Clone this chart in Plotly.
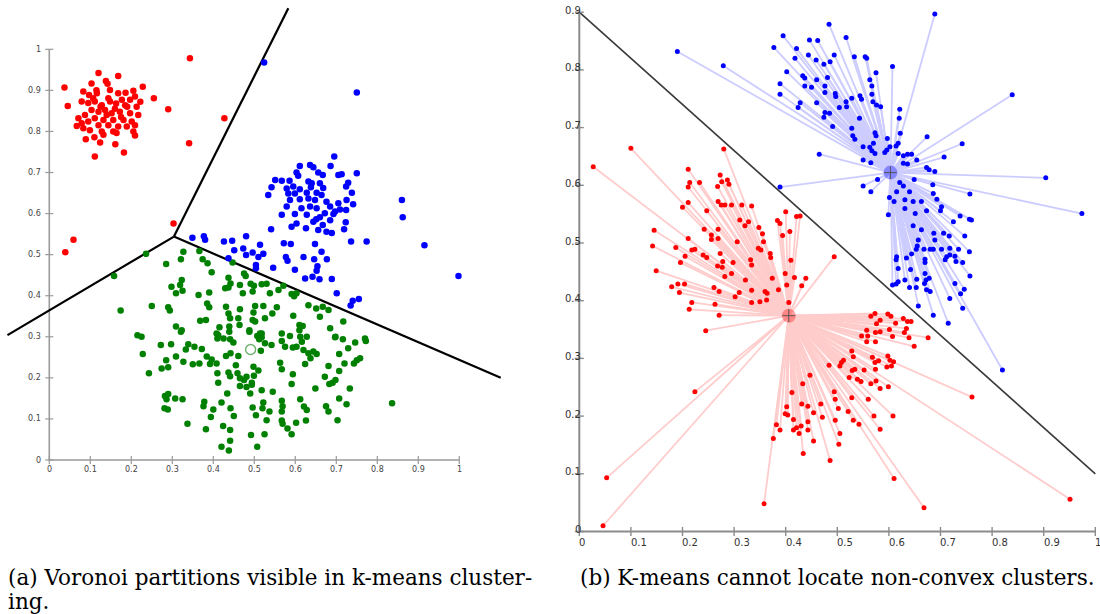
import plotly.graph_objects as go

# ---------------- panel (a): Voronoi partitions ----------------
a_red = [(0.343,0.978),(0.427,0.832),(0.341,0.771),(0.290,0.854),(0.255,0.881),(0.228,0.909),
         (0.037,0.907),(0.045,0.862),(0.303,0.576),(0.059,0.536),(0.039,0.506),(0.111,0.739),
         (0.182,0.749),(0.161,0.769),(0.120,0.942),(0.168,0.935),
         (0.103,0.917),(0.138,0.923),(0.142,0.916),(0.083,0.897),(0.097,0.889),(0.116,0.893),
         (0.148,0.901),(0.168,0.893),(0.186,0.894),(0.205,0.899),(0.209,0.885),(0.079,0.873),
         (0.095,0.869),(0.111,0.873),(0.128,0.864),(0.148,0.873),(0.163,0.868),(0.185,0.864),
         (0.213,0.860),(0.222,0.872),(0.103,0.852),(0.120,0.848),(0.136,0.852),(0.152,0.844),
         (0.172,0.848),(0.197,0.844),(0.217,0.840),(0.087,0.840),(0.071,0.832),(0.111,0.832),
         (0.132,0.828),(0.156,0.828),(0.181,0.828),(0.201,0.824),(0.095,0.824),(0.079,0.820),
         (0.067,0.813),(0.120,0.815),(0.144,0.815),(0.168,0.812),(0.189,0.812),(0.209,0.815),
         (0.083,0.808),(0.099,0.803),(0.128,0.800),(0.156,0.800),(0.205,0.800),(0.209,0.790),
         (0.132,0.792),(0.164,0.796),(0.089,0.781),(0.110,0.786),(0.124,0.773),(0.144,0.881),
         (0.177,0.877),(0.197,0.877),(0.107,0.881),(0.125,0.860),(0.160,0.855),(0.140,0.840),
         (0.175,0.835),(0.115,0.900),(0.190,0.860)]

a_blue = [(0.524,0.968),(0.750,0.895),
          (0.695,0.739),(0.611,0.716),(0.636,0.718),(0.644,0.713),(0.686,0.716),(0.603,0.700),
          (0.607,0.692),(0.656,0.700),(0.667,0.694),(0.705,0.694),(0.713,0.696),(0.750,0.698),
          (0.551,0.682),(0.567,0.680),(0.586,0.680),(0.632,0.678),(0.640,0.674),(0.660,0.674),
          (0.729,0.675),(0.724,0.666),(0.542,0.664),(0.579,0.661),(0.595,0.666),(0.611,0.659),
          (0.638,0.664),(0.668,0.662),(0.534,0.645),(0.583,0.649),(0.599,0.649),(0.628,0.651),
          (0.652,0.651),(0.664,0.645),(0.738,0.651),(0.587,0.633),(0.611,0.635),(0.632,0.637),
          (0.648,0.633),(0.676,0.629),(0.705,0.625),(0.725,0.633),(0.741,0.623),(0.579,0.617),
          (0.615,0.613),(0.636,0.617),(0.652,0.613),(0.685,0.617),(0.709,0.610),(0.697,0.605),
          (0.724,0.609),(0.567,0.597),(0.599,0.599),(0.628,0.597),(0.672,0.601),(0.693,0.599),
          (0.651,0.586),(0.660,0.591),(0.644,0.580),(0.685,0.584),(0.603,0.576),(0.591,0.568),
          (0.626,0.564),(0.656,0.560),(0.667,0.572),(0.676,0.556),(0.689,0.553),(0.719,0.562),
          (0.723,0.579),(0.541,0.562),(0.860,0.633),(0.862,0.591),(0.736,0.532),(0.774,0.532),
          (0.915,0.523),(0.998,0.448),
          (0.349,0.541),(0.377,0.545),(0.380,0.536),(0.426,0.532),(0.446,0.534),(0.480,0.545),
          (0.451,0.511),(0.473,0.515),(0.480,0.499),(0.496,0.505),(0.514,0.524),(0.510,0.494),
          (0.522,0.502),(0.437,0.491),(0.504,0.475),(0.504,0.467),(0.546,0.468),(0.572,0.528),
          (0.589,0.526),(0.577,0.494),(0.581,0.485),(0.599,0.463),(0.620,0.494),(0.646,0.489),
          (0.677,0.489),(0.648,0.526),(0.664,0.507),(0.654,0.472),(0.652,0.461),(0.624,0.442),
          (0.642,0.446),(0.659,0.440),(0.689,0.441),(0.701,0.406),(0.740,0.388),(0.755,0.392),
          (0.735,0.376)]

a_green = [(0.158,0.448),(0.236,0.502),(0.327,0.507),(0.366,0.509),(0.321,0.489),(0.285,0.477),
           (0.374,0.489),(0.386,0.479),(0.447,0.481),(0.396,0.457),(0.475,0.454),(0.479,0.448),
           (0.323,0.438),(0.319,0.426),(0.437,0.444),(0.442,0.430),(0.298,0.422),(0.325,0.412),
           (0.309,0.406),(0.429,0.418),(0.437,0.420),(0.465,0.426),(0.491,0.429),(0.499,0.424),
           (0.518,0.428),(0.530,0.429),(0.496,0.410),(0.472,0.406),(0.390,0.408),(0.364,0.402),
           (0.538,0.406),(0.559,0.414),(0.571,0.424),(0.591,0.404),(0.603,0.406),(0.597,0.399),
           (0.250,0.375),(0.174,0.364),(0.290,0.372),(0.294,0.364),(0.385,0.381),(0.390,0.372),
           (0.431,0.373),(0.465,0.367),(0.502,0.375),(0.522,0.375),(0.555,0.372),(0.544,0.357),
           (0.498,0.359),(0.437,0.357),(0.441,0.345),(0.461,0.345),(0.496,0.341),(0.502,0.337),
           (0.526,0.345),(0.595,0.351),(0.632,0.377),(0.651,0.369),(0.667,0.373),(0.681,0.365),
           (0.660,0.349),(0.717,0.337),(0.368,0.339),(0.382,0.341),(0.309,0.325),(0.323,0.316),
           (0.415,0.323),(0.439,0.325),(0.464,0.329),(0.488,0.316),(0.514,0.308),(0.518,0.299),
           (0.567,0.308),(0.610,0.329),(0.618,0.326),(0.610,0.316),(0.685,0.321),(0.215,0.304),
           (0.225,0.300),(0.412,0.304),(0.425,0.296),(0.628,0.300),(0.697,0.299),(0.770,0.296),
           (0.321,0.312),(0.408,0.308),(0.410,0.296),(0.439,0.312),(0.441,0.294),(0.449,0.286),
           (0.488,0.312),(0.507,0.302),(0.518,0.308),(0.512,0.294),(0.526,0.284),(0.542,0.280),
           (0.567,0.290),(0.587,0.302),(0.612,0.300),(0.616,0.288),(0.603,0.276),(0.575,0.276),
           (0.594,0.274),(0.698,0.300),(0.716,0.294),(0.772,0.290),(0.746,0.286),(0.729,0.272),
           (0.272,0.280),(0.297,0.282),(0.339,0.282),(0.333,0.269),(0.354,0.276),(0.372,0.270),
           (0.228,0.258),(0.309,0.252),(0.285,0.243),(0.327,0.239),(0.350,0.233),(0.366,0.235),
           (0.384,0.252),(0.396,0.245),(0.392,0.234),(0.408,0.235),(0.431,0.253),(0.442,0.260),
           (0.461,0.253),(0.455,0.231),(0.498,0.227),(0.510,0.218),(0.516,0.266),(0.620,0.268),
           (0.632,0.260),(0.644,0.264),(0.652,0.258),(0.637,0.248),(0.624,0.234),(0.707,0.258),
           (0.720,0.235),(0.681,0.229),(0.743,0.235),(0.750,0.243),(0.758,0.248),(0.563,0.237),
           (0.567,0.221),(0.274,0.223),(0.290,0.226),(0.243,0.211),(0.410,0.211),(0.412,0.188),
           (0.437,0.213),(0.441,0.204),(0.459,0.211),(0.465,0.199),(0.475,0.195),(0.481,0.203),
           (0.494,0.188),(0.499,0.205),(0.465,0.180),(0.481,0.178),(0.494,0.183),(0.594,0.209),
           (0.591,0.185),(0.707,0.217),(0.672,0.203),(0.698,0.195),(0.683,0.185),(0.691,0.188),
           (0.649,0.174),(0.733,0.174),(0.434,0.162),(0.490,0.162),(0.518,0.170),(0.545,0.166),
           (0.282,0.156),(0.290,0.161),(0.286,0.148),(0.307,0.150),(0.325,0.148),(0.281,0.126),
           (0.289,0.123),(0.378,0.142),(0.376,0.131),(0.400,0.123),(0.420,0.140),(0.442,0.126),
           (0.450,0.107),(0.394,0.105),(0.496,0.128),(0.504,0.109),(0.522,0.140),(0.520,0.126),
           (0.537,0.118),(0.530,0.097),(0.567,0.144),(0.569,0.131),(0.567,0.118),(0.567,0.096),
           (0.569,0.088),(0.581,0.077),(0.591,0.063),(0.602,0.091),(0.612,0.148),(0.621,0.130),
           (0.628,0.122),(0.626,0.096),(0.675,0.131),(0.681,0.118),(0.703,0.097),(0.707,0.150),
           (0.725,0.136),(0.836,0.138),(0.337,0.088),(0.382,0.075),(0.424,0.083),(0.441,0.073),
           (0.441,0.047),(0.492,0.061),(0.525,0.063),(0.420,0.032),(0.438,0.023),(0.507,0.032)]

a_centroid = (0.491, 0.269)

# Voronoi edges: junction and the three far ends
a_junction = (0.304, 0.544)
a_edge_ends = [(0.583, 1.100), (-0.102, 0.304), (1.101, 0.200)]

# ---------------- panel (b): non-convex clusters ----------------
b_red_centroid = (0.406, 0.374)
b_blue_centroid = (0.603, 0.622)
b_boundary = [(0.0, 0.9), (1.0, 0.1)]

b_red = [(0.100,0.664),(0.027,0.632),(0.280,0.663),(0.211,0.628),(0.273,0.618),(0.276,0.606),
         (0.287,0.609),(0.290,0.602),(0.268,0.598),(0.214,0.605),(0.211,0.597),(0.233,0.605),
         (0.211,0.570),(0.200,0.562),(0.269,0.572),(0.275,0.566),(0.282,0.566),(0.295,0.566),
         (0.315,0.566),(0.334,0.564),(0.247,0.556),(0.311,0.540),(0.328,0.537),(0.321,0.530),
         (0.400,0.554),(0.384,0.539),(0.389,0.534),(0.421,0.546),(0.428,0.547),(0.408,0.520),
         (0.394,0.513),(0.348,0.527),(0.355,0.516),(0.357,0.502),(0.347,0.491),(0.352,0.488),
         (0.370,0.482),(0.371,0.475),(0.410,0.470),(0.494,0.476),(0.145,0.522),(0.142,0.495),
         (0.187,0.492),(0.211,0.508),(0.218,0.488),(0.205,0.477),(0.224,0.489),(0.240,0.479),
         (0.247,0.475),(0.196,0.466),(0.242,0.524),(0.256,0.514),(0.256,0.506),(0.269,0.524),
         (0.269,0.508),(0.273,0.482),(0.278,0.468),(0.268,0.460),(0.277,0.458),(0.306,0.502),
         (0.298,0.466),(0.295,0.447),(0.282,0.442),(0.332,0.471),(0.334,0.462),(0.322,0.436),
         (0.374,0.439),(0.399,0.447),(0.417,0.440),(0.402,0.427),(0.439,0.439),(0.431,0.426),
         (0.149,0.452),(0.179,0.424),(0.191,0.429),(0.204,0.429),(0.194,0.414),(0.261,0.423),
         (0.271,0.416),(0.302,0.407),(0.310,0.414),(0.334,0.418),(0.334,0.397),(0.350,0.398),
         (0.363,0.401),(0.360,0.416),(0.364,0.413),(0.386,0.419),(0.406,0.397),(0.218,0.397),
         (0.263,0.394),(0.213,0.385),(0.271,0.375),(0.245,0.348),(0.224,0.242),(0.053,0.093),
         (0.046,0.010),(0.358,0.048),(0.486,0.123),(0.434,0.135),(0.610,0.092),(0.668,0.041),
         (0.761,0.233),(0.951,0.056),
         (0.565,0.373),(0.573,0.378),(0.583,0.366),(0.576,0.360),(0.598,0.377),(0.604,0.373),
         (0.613,0.361),(0.628,0.369),(0.636,0.364),(0.643,0.364),(0.634,0.352),(0.601,0.350),
         (0.583,0.346),(0.574,0.345),(0.557,0.349),(0.547,0.339),(0.559,0.339),(0.557,0.329),
         (0.574,0.329),(0.607,0.338),(0.630,0.345),(0.639,0.336),(0.676,0.336),(0.649,0.321),
         (0.528,0.313),(0.531,0.303),(0.568,0.302),(0.573,0.293),(0.580,0.296),(0.598,0.304),
         (0.602,0.297),(0.609,0.294),(0.605,0.287),(0.596,0.285),(0.574,0.281),(0.552,0.280),
         (0.534,0.281),(0.529,0.279),(0.512,0.297),(0.508,0.293),(0.505,0.287),(0.484,0.288),
         (0.523,0.267),(0.539,0.264),(0.546,0.260),(0.565,0.256),(0.575,0.261),(0.599,0.251),
         (0.583,0.248),(0.447,0.271),(0.433,0.256),(0.412,0.241),(0.494,0.242),(0.496,0.229),
         (0.528,0.232),(0.560,0.229),(0.502,0.213),(0.521,0.208),(0.531,0.193),(0.542,0.186),
         (0.571,0.200),(0.608,0.200),(0.583,0.177),(0.402,0.216),(0.399,0.204),(0.404,0.202),
         (0.415,0.194),(0.431,0.221),(0.443,0.217),(0.454,0.206),(0.468,0.221),(0.471,0.198),
         (0.496,0.193),(0.443,0.190),(0.430,0.183),(0.421,0.180),(0.415,0.176),(0.389,0.176),
         (0.382,0.185),(0.376,0.161),(0.426,0.170),(0.443,0.176),(0.454,0.157),(0.505,0.170),
         (0.503,0.151)]

b_blue = [(0.689,0.897),(0.190,0.832),(0.279,0.807),(0.484,0.879),(0.395,0.859),(0.377,0.839),
          (0.421,0.837),(0.446,0.852),(0.462,0.851),(0.517,0.856),(0.418,0.820),(0.444,0.826),
          (0.459,0.817),(0.474,0.810),(0.486,0.814),(0.494,0.826),(0.533,0.823),(0.554,0.823),
          (0.557,0.820),(0.607,0.806),(0.575,0.795),(0.402,0.797),(0.433,0.790),(0.437,0.786),
          (0.460,0.783),(0.481,0.787),(0.389,0.776),(0.389,0.758),(0.437,0.772),(0.450,0.770),
          (0.476,0.772),(0.563,0.783),(0.567,0.772),(0.476,0.761),(0.496,0.759),(0.497,0.754),
          (0.528,0.751),(0.544,0.755),(0.547,0.749),(0.567,0.758),(0.569,0.745),(0.576,0.739),
          (0.584,0.736),(0.839,0.757),(0.428,0.743),(0.424,0.735),(0.460,0.743),(0.504,0.735),
          (0.517,0.745),(0.518,0.736),(0.476,0.726),(0.474,0.718),(0.485,0.725),(0.543,0.716),
          (0.621,0.732),(0.620,0.716),(0.491,0.702),(0.528,0.699),(0.530,0.686),(0.534,0.680),
          (0.573,0.691),(0.575,0.686),(0.550,0.667),(0.563,0.666),(0.570,0.673),(0.567,0.660),
          (0.573,0.655),(0.597,0.681),(0.602,0.667),(0.618,0.673),(0.614,0.668),(0.622,0.690),
          (0.592,0.657),(0.596,0.661),(0.618,0.655),(0.628,0.651),(0.636,0.654),(0.644,0.654),
          (0.628,0.638),(0.636,0.637),(0.654,0.644),(0.674,0.684),(0.742,0.672),(0.707,0.649),
          (0.673,0.631),(0.678,0.627),(0.689,0.624),(0.465,0.654),(0.550,0.644),(0.565,0.639),
          (0.904,0.613),(0.974,0.551),(0.389,0.597),(0.578,0.610),(0.550,0.599),(0.565,0.589),
          (0.621,0.605),(0.628,0.599),(0.649,0.610),(0.615,0.589),(0.640,0.589),(0.601,0.579),
          (0.610,0.572),(0.631,0.575),(0.647,0.572),(0.663,0.572),(0.685,0.601),(0.686,0.586),
          (0.693,0.576),(0.757,0.585),(0.599,0.549),(0.631,0.560),(0.651,0.551),(0.673,0.556),
          (0.702,0.563),(0.700,0.556),(0.725,0.537),(0.738,0.547),(0.756,0.541),(0.760,0.540),
          (0.647,0.530),(0.663,0.523),(0.687,0.517),(0.706,0.517),(0.717,0.512),(0.747,0.512),
          (0.689,0.505),(0.657,0.505),(0.655,0.495),(0.653,0.489),(0.668,0.489),(0.680,0.489),
          (0.686,0.489),(0.702,0.489),(0.718,0.491),(0.735,0.489),(0.756,0.485),(0.644,0.481),
          (0.634,0.474),(0.615,0.476),(0.614,0.471),(0.670,0.472),(0.670,0.466),(0.712,0.476),
          (0.718,0.479),(0.728,0.477),(0.709,0.471),(0.730,0.468),(0.743,0.466),(0.618,0.456),
          (0.642,0.454),(0.670,0.447),(0.757,0.443),(0.631,0.436),(0.654,0.437),(0.672,0.436),
          (0.669,0.430),(0.678,0.439),(0.618,0.433),(0.614,0.429),(0.607,0.427),(0.640,0.423),
          (0.653,0.423),(0.673,0.419),(0.680,0.416),(0.728,0.430),(0.746,0.420),(0.739,0.412),
          (0.657,0.391),(0.686,0.375),(0.718,0.404),(0.743,0.387),(0.715,0.361),(0.820,0.280)]

# ---------------- tick values / labels ----------------
a_ticks = [0, 0.1, 0.2, 0.3, 0.4, 0.5, 0.6, 0.7, 0.8, 0.9, 1.0]
a_tick_labels = ['0', '0.1', '0.2', '0.3', '0.4', '0.5', '0.6', '0.7', '0.8', '0.9', '1']
b_xticks = [0, 0.1, 0.2, 0.3, 0.4, 0.5, 0.6, 0.7, 0.8, 0.9, 1.0]
b_xtick_labels = ['0', '0.1', '0.2', '0.3', '0.4', '0.5', '0.6', '0.7', '0.8', '0.9', '1']
b_yticks = [0, 0.1, 0.2, 0.3, 0.4, 0.5, 0.6, 0.7, 0.8, 0.9]
b_ytick_labels = ['0', '0.1', '0.2', '0.3', '0.4', '0.5', '0.6', '0.7', '0.8', '0.9']

caption_a1 = "(a) Voronoi partitions visible in k-means cluster-"
caption_a2 = "ing."
caption_b = "(b) K-means cannot locate non-convex clusters."

W, H = 1100, 614


def xs(pts):
    return [p[0] for p in pts]


def ys(pts):
    return [p[1] for p in pts]


def spokes(pts, c):
    lx, ly = [], []
    for p in pts:
        lx += [c[0], p[0], None]
        ly += [c[1], p[1], None]
    return lx, ly


fig = go.Figure()

# ---- panel (a) axes (drawn as data lines) ----
AXC = '#9a9a9a'
ta_x = 4 / 410.0
ta_y = 4 / 410.7
fig.add_trace(go.Scatter(x=[0, 0, 1], y=[1, 0, 0], mode='lines',
                         line=dict(color=AXC, width=1.6), xaxis='x', yaxis='y', hoverinfo='skip'))
tx, ty = [], []
for t in a_ticks:
    tx += [t, t, None]; ty += [-ta_y, ta_y, None]
    tx += [-ta_x, ta_x, None]; ty += [t, t, None]
fig.add_trace(go.Scatter(x=tx, y=ty, mode='lines', line=dict(color=AXC, width=1.2),
                         xaxis='x', yaxis='y', hoverinfo='skip'))

# Voronoi edges
ex, ey = [], []
for e in a_edge_ends:
    ex += [a_junction[0], e[0], None]
    ey += [a_junction[1], e[1], None]
fig.add_trace(go.Scatter(x=ex, y=ey, mode='lines', line=dict(color='black', width=2.2),
                         xaxis='x', yaxis='y', hoverinfo='skip'))

for pts, col in [(a_green, '#008000'), (a_blue, '#0000ff'), (a_red, '#ff0000')]:
    fig.add_trace(go.Scatter(x=xs(pts), y=ys(pts), mode='markers',
                             marker=dict(color=col, size=6.5, line=dict(width=0)),
                             xaxis='x', yaxis='y', hoverinfo='skip'))
fig.add_trace(go.Scatter(x=[a_centroid[0]], y=[a_centroid[1]], mode='markers',
                         marker=dict(symbol='circle-open', color='rgba(60,150,60,0.75)', size=10,
                                     line=dict(width=1.4)),
                         xaxis='x', yaxis='y', hoverinfo='skip'))

# ---- panel (b) ----
AXB = '#8c8c8c'
tb_x = 4.5 / 516.0
tb_y = 4.5 / 577.0
for pts, c, lc in [(b_red, b_red_centroid, '#ffcccc'), (b_blue, b_blue_centroid, '#ccccff')]:
    lx, ly = spokes(pts, c)
    fig.add_trace(go.Scatter(x=lx, y=ly, mode='lines', line=dict(color=lc, width=1.8),
                             xaxis='x2', yaxis='y2', hoverinfo='skip'))

fig.add_trace(go.Scatter(x=xs(b_boundary), y=ys(b_boundary), mode='lines',
                         line=dict(color='#3a3a3a', width=1.6), xaxis='x2', yaxis='y2', hoverinfo='skip'))

fig.add_trace(go.Scatter(x=[0, 0, 1], y=[b_yticks[-1], 0, 0], mode='lines',
                         line=dict(color=AXB, width=2), xaxis='x2', yaxis='y2', hoverinfo='skip'))
tx, ty = [], []
for t in b_xticks:
    tx += [t, t, None]; ty += [-tb_y, tb_y, None]
for t in b_yticks:
    tx += [-tb_x, tb_x, None]; ty += [t, t, None]
fig.add_trace(go.Scatter(x=tx, y=ty, mode='lines', line=dict(color=AXB, width=1.4),
                         xaxis='x2', yaxis='y2', hoverinfo='skip'))

for pts, col in [(b_red, '#ff0000'), (b_blue, '#0000ff')]:
    fig.add_trace(go.Scatter(x=xs(pts), y=ys(pts), mode='markers',
                             marker=dict(color=col, size=5, line=dict(width=0)),
                             xaxis='x2', yaxis='y2', hoverinfo='skip'))

for c, fc in [(b_red_centroid, 'rgba(255,0,0,0.35)'), (b_blue_centroid, 'rgba(0,0,255,0.35)')]:
    fig.add_trace(go.Scatter(x=[c[0]], y=[c[1]], mode='markers',
                             marker=dict(color=fc, size=14, line=dict(width=0)),
                             xaxis='x2', yaxis='y2', hoverinfo='skip'))
    fig.add_trace(go.Scatter(x=[c[0]], y=[c[1]], mode='markers',
                             marker=dict(symbol='cross-thin', size=9, line=dict(color='#555555', width=1)),
                             xaxis='x2', yaxis='y2', hoverinfo='skip'))

# ---- tick labels as annotations ----
ann = []
tick_font_a = dict(family='DejaVu Sans', size=8, color='#444444')
for t, lab in zip(a_ticks, a_tick_labels):
    ann.append(dict(x=0, y=t, xref='x', yref='y', text=lab, showarrow=False,
                    xanchor='right', yanchor='middle', xshift=-6, font=tick_font_a))
    ann.append(dict(x=t, y=0, xref='x', yref='y', text=lab, showarrow=False,
                    xanchor='center', yanchor='top', yshift=-3, font=tick_font_a))
tick_font_b = dict(family='DejaVu Sans', size=10, color='#333333')
for t, lab in zip(b_xticks, b_xtick_labels):
    ann.append(dict(x=t, y=0, xref='x2', yref='y2', text=lab, showarrow=False,
                    xanchor='left', yanchor='top', xshift=-2, yshift=-3, font=tick_font_b))
for t, lab in zip(b_yticks, b_ytick_labels):
    ann.append(dict(x=0, y=t, xref='x2', yref='y2', text=lab, showarrow=False,
                    xanchor='right', yanchor='middle', xshift=4, yshift=2, font=tick_font_b))

cap_font = dict(family='DejaVu Serif', size=21.5, color='black')
ann.append(dict(x=6 / W, y=1 - 577 / H, xref='paper', yref='paper', text=caption_a1, showarrow=False,
                xanchor='left', yanchor='middle', font=cap_font))
ann.append(dict(x=6 / W, y=1 - 601 / H, xref='paper', yref='paper', text=caption_a2, showarrow=False,
                xanchor='left', yanchor='middle', font=cap_font))
ann.append(dict(x=578 / W, y=1 - 577 / H, xref='paper', yref='paper', text=caption_b, showarrow=False,
                xanchor='left', yanchor='middle', font=cap_font))

# ---- axes / layout (pixel-calibrated ranges) ----
ax_hidden = dict(visible=False, showgrid=False, zeroline=False, fixedrange=True)
fig.update_layout(
    width=W, height=H,
    margin=dict(l=0, r=0, t=0, b=0),
    paper_bgcolor='white', plot_bgcolor='white',
    showlegend=False,
    annotations=ann,
    xaxis=dict(domain=[0, 510 / W], range=[-49.3 / 410, (510 - 49.3) / 410], anchor='y', **ax_hidden),
    yaxis=dict(domain=[1 - 490 / H, 1], range=[(460 - 490) / 410.7, 460 / 410.7], anchor='x', **ax_hidden),
    xaxis2=dict(domain=[560 / W, 1], range=[(560 - 579.3) / 516, (1100 - 579.3) / 516], anchor='y2', **ax_hidden),
    yaxis2=dict(domain=[1 - 555 / H, 1], range=[(531.5 - 555) / 577, 531.5 / 577], anchor='x2', **ax_hidden),
)

fig.write_html("out.html", config={'displayModeBar': False})
